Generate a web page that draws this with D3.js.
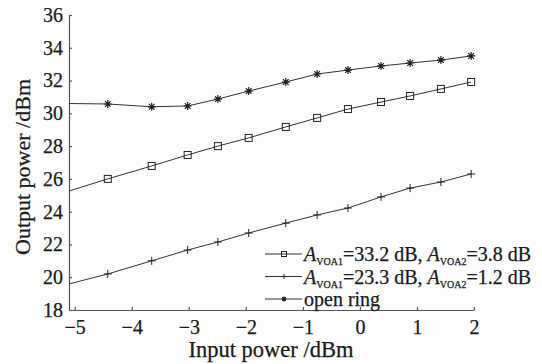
<!DOCTYPE html>
<html lang="en">
<head>
    <meta charset="UTF-8">
    <title>Output power</title>
    <script src="https://cdn.jsdelivr.net/npm/d3@7/dist/d3.min.js"></script>
    <style>
        body { margin: 0; background: #fdfdfd; }
        text { font-family: "Liberation Serif", "DejaVu Serif", serif; fill: #1a1a1a; stroke: #1a1a1a; stroke-width: 0.25px; }
    </style>
</head>
<body>
    <script>
        // input power, first value is the line start at the left axis (no marker there)
        var inputPower = [-5.1, -4.42, -3.65, -3.02, -2.49, -1.95, -1.3, -0.75, -0.21, 0.37, 0.88, 1.42, 1.95];
        var openRing   = [30.6, 30.57, 30.4, 30.45, 30.87, 31.36, 31.91, 32.4, 32.64, 32.89, 33.07, 33.25, 33.5];
        var voaHigh    = [25.26, 26.0, 26.79, 27.46, 28.0, 28.5, 29.17, 29.72, 30.26, 30.69, 31.06, 31.49, 31.91];
        var voaLow     = [19.59, 20.2, 21.0, 21.66, 22.15, 22.7, 23.3, 23.8, 24.22, 24.9, 25.44, 25.81, 26.3];

        var xTicks = [-5, -4, -3, -2, -1, 0, 1, 2];
        var yTicks = [18, 20, 22, 24, 26, 28, 30, 32, 34, 36];

        var width = 542, height = 364;
        var svg = d3.select("body").append("svg").attr("width", width).attr("height", height);

        var xScale = d3.scaleLinear().domain([-5.1, 2]).range([69, 474]);
        var yScale = d3.scaleLinear().domain([18, 36]).range([310, 15]);

        var xAxis = d3.axisBottom(xScale).tickValues(xTicks).tickSizeInner(-3).tickSizeOuter(0).tickPadding(10)
                .tickFormat(function (d) { return d < 0 ? "\u2212" + Math.abs(d) : d; });
        var yAxis = d3.axisLeft(yScale).tickValues(yTicks).tickSizeInner(-3).tickSizeOuter(0).tickPadding(6);

        var gx = svg.append("g").attr("transform", "translate(0,310)").call(xAxis);
        var gy = svg.append("g").attr("transform", "translate(69,0)").call(yAxis);
        [gx, gy].forEach(function (g) {
            g.selectAll("path, line").attr("stroke", "#555").attr("stroke-width", 1.2);
            g.selectAll("text").attr("font-size", 20).attr("fill", "#1a1a1a")
                    .style("font-family", "'Liberation Serif', serif");
        });

        // axis titles
        svg.append("text").attr("x", 271).attr("y", 357).attr("text-anchor", "middle")
                .attr("font-size", 22.5).text("Input power /dBm");
        svg.append("text").attr("transform", "translate(30,167) rotate(-90)").attr("text-anchor", "middle")
                .attr("font-size", 22).text("Output power /dBm");

        // markers
        function drawMarker(g, type, x, y, s) {
            if (type === "square") {
                g.append("rect").attr("x", x - s / 2).attr("y", y - s / 2).attr("width", s).attr("height", s)
                        .attr("fill", "none").attr("stroke", "#222").attr("stroke-width", 1);
            } else if (type === "plus") {
                g.append("path").attr("d", "M" + (x - s / 2) + "," + y + "H" + (x + s / 2) + "M" + x + "," + (y - s / 2) + "V" + (y + s / 2))
                        .attr("stroke", "#222").attr("stroke-width", 1);
            } else {
                var r = s / 2, k = r * 0.71;
                g.append("path").attr("d",
                        "M" + (x - r) + "," + y + "H" + (x + r) +
                        "M" + x + "," + (y - r) + "V" + (y + r) +
                        "M" + (x - k) + "," + (y - k) + "L" + (x + k) + "," + (y + k) +
                        "M" + (x - k) + "," + (y + k) + "L" + (x + k) + "," + (y - k))
                        .attr("stroke", "#222").attr("stroke-width", 1.2);
            }
        }

        var series = [
            { values: voaHigh, marker: "square" },
            { values: voaLow, marker: "plus" },
            { values: openRing, marker: "star" }
        ];

        var line = d3.line()
                .x(function (d) { return xScale(d[0]); })
                .y(function (d) { return yScale(d[1]); });

        series.forEach(function (s) {
            var pts = inputPower.map(function (x, i) { return [x, s.values[i]]; });
            svg.append("path").datum(pts).attr("d", line)
                    .attr("fill", "none").attr("stroke", "#333").attr("stroke-width", 1);
            var g = svg.append("g");
            pts.forEach(function (p, i) {
                if (i === 0) return;
                drawMarker(g, s.marker, xScale(p[0]), yScale(p[1]), s.marker === "square" ? 7 : 8);
            });
        });

        // legend
        var legendRows = [
            { marker: "square", parts: [["A", "VOA1", "=33.2 dB, "], ["A", "VOA2", "=3.8 dB"]] },
            { marker: "plus", parts: [["A", "VOA1", "=23.3 dB, "], ["A", "VOA2", "=1.2 dB"]] },
            { marker: "star", text: "open ring" }
        ];
        var legend = svg.append("g");
        legendRows.forEach(function (row, i) {
            var cy = 254 + i * 22.5;
            legend.append("line").attr("x1", 265).attr("x2", 302).attr("y1", cy).attr("y2", cy)
                    .attr("stroke", "#333").attr("stroke-width", 1);
            drawMarker(legend, row.marker, 284, cy, 5);
            var t = legend.append("text").attr("x", 304).attr("y", cy + 7).attr("font-size", 20);
            if (row.text) {
                t.text(row.text);
            } else {
                row.parts.forEach(function (p) {
                    t.append("tspan").attr("font-style", "italic").text(p[0]);
                    t.append("tspan").attr("font-size", 10).attr("dy", 4).text(p[1]);
                    t.append("tspan").attr("dy", -4).text(p[2]);
                });
            }
        });
    </script>
</body>
</html>
